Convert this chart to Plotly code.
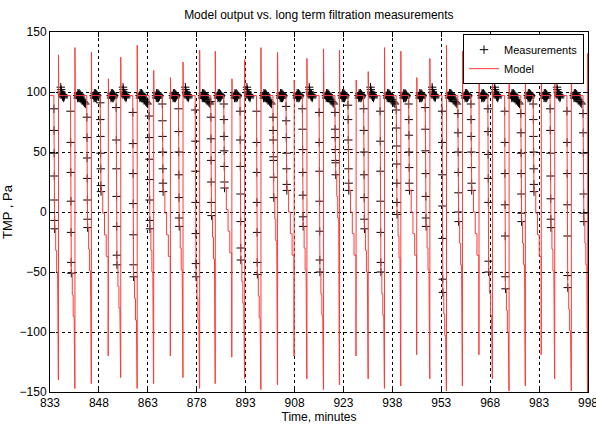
import plotly.graph_objects as go

# ---------------- data ----------------
# backwash (spike) times, minutes
spike_t = [835.6, 840.65, 845.7, 850.9, 854.7, 859.75, 864.8, 869.95, 873.8, 878.9,
           883.7, 888.8, 892.7, 897.7, 902.8, 907.9, 911.8, 916.9, 921.8, 926.9,
           930.6, 935.6, 940.6, 945.5, 949.5, 954.6, 959.5, 964.6, 968.7, 973.8,
           978.8, 983.7, 987.8, 992.9, 997.9]
cycle_type = ["A", "B", "C", "D"] * 8 + ["A", "B", "C"]
# model spike peaks and troughs, Pa
peak_v = [131, 137, 133, 111, 129, 139, 118, 112, 125, 135, 134, 111, 127, 137, 133, 110,
          128, 136, 135, 110, 117, 137, 134, 112, 128, 139, 134, 111, 126, 137, 133, 112,
          128, 137, 132]
trough_v = [-140, -147, -143, -120, -138, -147, -143, -120, -138, -147, -143, -121,
            -139, -148, -144, -120, -139, -148, -144, -120, -139, -147, -145, -119,
            -139, -149, -145, -119, -139, -149, -145, -119, -139, -149, -150]
# lead time of the backwash descent before each spike, min
lead_by_type = {"A": 1.4, "B": 1.35, "C": 1.4, "D": 2.5}
# model stepped descent after the measured column: drop below last value, Pa
desc_drop = [18, 36, 54]
desc_dt = [0.3, 0.6, 0.9]
plateau_v = 97

# measured TMP during the backwash descent (one column per cycle), Pa
col_vals = [
    [86, 68, 49, 30, 10, -7, -14],
    [84, 58, 33, 9, -17, -42, -51],
    [79, 62, 45, 28, 10, -6, -13],
    [91, 77, 63, 49, 36, 22, 17],
    [87, 60, 36, 13, -12, -36, -44],
    [83, 57, 32, 7, -19, -44, -54],
    [80, 62, 44, 27, 10, -7, -14],
    [90, 76, 63, 50, 36, 24, 17],
    [86, 67, 50, 31, 12, -5, -12],
    [85, 59, 34, 8, -18, -43, -54],
    [92, 79, 61, 43, 25, 8, -3],
    [90, 77, 63, 51, 38, 25, 20],
    [84, 60, 38, 15, -8, -30, -40],
    [84, 58, 33, 8, -17, -42, -52],
    [79, 68, 60, 46, 43, 29, 12],
    [88, 76, 62, 49, 36, 23, 18],
    [86, 69, 52, 33, 14, -4, -12],
    [83, 58, 34, 9, -16, -40, -50],
    [83, 69, 62, 52, 43, 41, 31],
    [89, 77, 60, 52, 36, 24, 18],
    [86, 68, 50, 31, 12, -6, -14],
    [84, 59, 34, 9, -17, -42, -50],
    [85, 70, 55, 40, 24, 8, -2],
    [90, 77, 64, 50, 37, 24, 18],
    [87, 69, 51, 32, 13, -5, -12],
    [84, 58, 31, 5, -22, -56, -67],
    [82, 66, 50, 33, 16, 0, -8],
    [90, 77, 63, 50, 37, 24, 18],
    [86, 67, 48, 28, 8, -41, -50],
    [84, 58, 32, 6, -20, -54, -64],
    [82, 66, 49, 32, 15, -1, -8],
    [90, 77, 63, 50, 36, 23, 17],
    [86, 68, 49, 30, 11, -6, -13],
    [84, 58, 32, 6, -20, -53, -63],
    [82, 66, 49, 32, 15, -1, -8],
]

# dense filtration-phase measurements after each spike
blob_dt = [0.7, 0.8, 0.9, 1.0, 1.1, 1.2, 1.3, 1.4, 1.5, 1.6, 1.7, 1.8]
blob_A = [104, 102, 100, 99, 98, 97, 96, 98, 97, 95, 96, 97]
blob_N = [97, 95, 99, 96, 98, 95, 99, 97, 95, 98, 96, 97]
trail_dt = [2.0, 2.3, 2.6, 2.9, 3.2]
trail_v = [95, 93.5, 92, 91, 90]

x_ticks = [833, 848, 863, 878, 893, 908, 923, 938, 953, 968, 983, 998]
y_ticks = [-150, -100, -50, 0, 50, 100, 150]

# ---------------- build traces ----------------
mx, my = [], []
lx, ly = [833], [plateau_v]
for i, T in enumerate(spike_t):
    lead = lead_by_type[cycle_type[i]]
    t0 = T - lead
    lx.append(t0 - 0.02)
    ly.append(plateau_v)
    for j, v in enumerate(col_vals[i]):
        mx.append(t0 + 0.04 * j)
        my.append(v)
        lx.append(t0 + 0.04 * j)
        ly.append(v)
    # stepped model descent down to the trough
    ta = t0 + 0.04 * (len(col_vals[i]) - 1)
    last = col_vals[i][-1]
    for dt, d in zip(desc_dt, desc_drop):
        tt = min(ta + dt * lead / 1.4, T - 0.1)
        lx += [tt, tt]
        ly += [ly[-1], last - d]
    lx += [T - 0.05, T - 0.05, T]
    ly += [ly[-1], trough_v[i], trough_v[i]]
    lx += [T, T + 0.08, T + 0.25]
    ly += [peak_v[i], 101, plateau_v]
    vals = blob_A if cycle_type[i] == "A" else blob_N
    for dt, v in zip(blob_dt, vals):
        if T + dt < 998:
            mx.append(T + dt)
            my.append(v)
    if cycle_type[i] == "B":
        for dt, v in zip(trail_dt, trail_v):
            mx.append(T + dt)
            my.append(v)
lx.append(998)
ly.append(plateau_v)

fig = go.Figure()
fig.add_trace(go.Scatter(
    x=mx, y=my, mode="markers", name="Measurements",
    marker=dict(symbol="cross-thin-open", size=6, color="black",
                line=dict(color="black", width=1)),
))
fig.add_trace(go.Scatter(
    x=lx, y=ly, mode="lines", name="Model",
    line=dict(color="#ff3a3a", width=1),
))

font = "Liberation Sans, Arial, sans-serif"
axis_common = dict(
    showline=True, linecolor="black", linewidth=1, mirror="ticks",
    ticks="inside", ticklen=5, tickcolor="black",
    showgrid=True, gridcolor="black", gridwidth=1, griddash="dot",
    zeroline=False, automargin=False, ticklabeloverflow="allow",
    tickfont=dict(family=font, size=12, color="black"),
)
fig.update_layout(
    width=596, height=424,
    margin=dict(l=50, r=8, t=32, b=32, autoexpand=False),
    paper_bgcolor="white", plot_bgcolor="white",
    font=dict(family=font, size=12, color="black"),
    title=dict(text="Model output vs. long term filtration measurements",
               x=0.535, xanchor="center", y=0.975, yanchor="top",
               font=dict(family=font, size=12, color="black")),
    xaxis=dict(range=[832.999, 998.001], tickvals=x_ticks,
               title=dict(text="Time, minutes", standoff=4,
                          font=dict(family=font, size=12)),
               **axis_common),
    yaxis=dict(range=[-150, 150], tickvals=y_ticks,
               title=dict(text="TMP , Pa", standoff=4,
                          font=dict(family=font, size=13)),
               **axis_common),
    legend=dict(x=0.9926, y=0.994, xanchor="right", yanchor="top",
                bgcolor="white", bordercolor="black", borderwidth=1,
                font=dict(family=font, size=11, color="black"),
                tracegroupgap=0, itemwidth=30),
    showlegend=True,
)
fig.write_html("out.html")
